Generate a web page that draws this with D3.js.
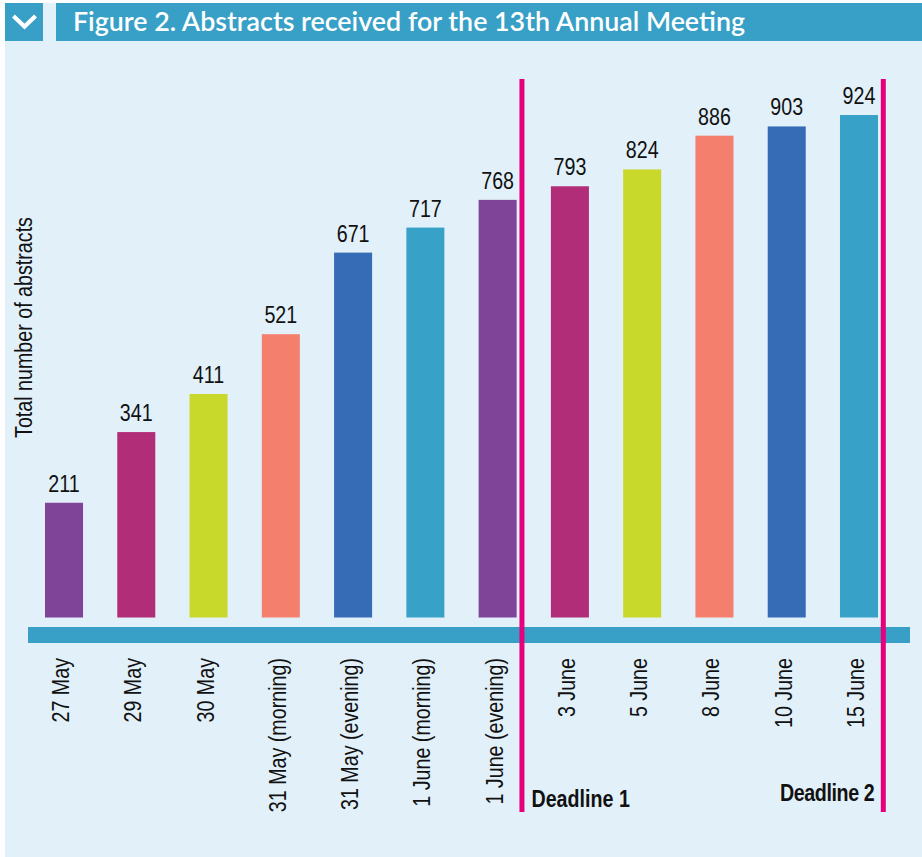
<!DOCTYPE html>
<html>
<head>
<meta charset="utf-8">
<script src="https://cdn.jsdelivr.net/npm/d3@7"></script>
<style>
  html, body { margin: 0; padding: 0; background: #ffffff; }
  svg { display: block; }
  .narrow { font-family: "Liberation Sans", Arial, sans-serif; }
</style>
</head>
<body>
<svg id="chart" width="922" height="857"></svg>
<script>
// ---- Data ----
const categories = ["27 May", "29 May", "30 May", "31 May (morning)", "31 May (evening)",
  "1 June (morning)", "1 June (evening)", "3 June", "5 June", "8 June", "10 June", "15 June"];
const values = [211, 341, 411, 521, 671, 717, 768, 793, 824, 886, 903, 924];
const barColors = ["#7f4397", "#b22d78", "#c9d92b", "#f47f6c", "#366bb5", "#37a1c8",
  "#7f4397", "#b22d78", "#c9d92b", "#f47f6c", "#366bb5", "#37a1c8"];
const deadlines = [
  { after: "1 June (evening)", label: "Deadline 1", side: "right" },
  { after: "15 June", label: "Deadline 2", side: "left" }
];
const titleText = "Figure 2. Abstracts received for the 13th Annual Meeting";
const yAxisTitle = "Total number of abstracts";

// ---- Layout ----
const W = 922, H = 857;
const SX = 0.82; // horizontal condensing to mimic a narrow face
const svg = d3.select("#chart");

const x = d3.scaleBand().domain(categories).range([45, 878]).paddingInner(0.474).paddingOuter(0);
const y = d3.scaleLinear().domain([0, 1000]).range([617.5, 73.7]);

// panel background
svg.append("rect").attr("x", 5).attr("y", 3).attr("width", W - 5).attr("height", H - 3).attr("fill", "#e1f0f9");

// header
svg.append("rect").attr("x", 5).attr("y", 3).attr("width", 38).attr("height", 38).attr("fill", "#38a0c6");
svg.append("path").attr("d", "M15,17.5 L24.5,26.5 L34,17.5").attr("fill", "none")
  .attr("stroke", "#ffffff").attr("stroke-width", 4.2).attr("stroke-linecap", "square").attr("stroke-linejoin", "miter");
svg.append("rect").attr("x", 56).attr("y", 3).attr("width", W - 56).attr("height", 38).attr("fill", "#38a0c6");
svg.append("text").attr("x", 73).attr("y", 31)
  .attr("fill", "#ffffff").attr("font-family", "Lato, 'Open Sans', sans-serif").attr("font-weight", 600)
  .attr("font-size", 27).attr("textLength", 672).attr("lengthAdjust", "spacingAndGlyphs")
  .text(titleText);

// bars
svg.append("g").selectAll("rect").data(categories).join("rect")
  .attr("x", d => x(d))
  .attr("y", (d, i) => y(values[i]))
  .attr("width", x.bandwidth())
  .attr("height", (d, i) => y(0) - y(values[i]))
  .attr("fill", (d, i) => barColors[i]);

// value labels
svg.append("g").attr("class", "narrow").selectAll("text").data(categories).join("text")
  .attr("transform", (d, i) => `translate(${x(d) + x.bandwidth() / 2},${y(values[i]) - 11}) scale(${SX},1)`)
  .attr("text-anchor", "middle").attr("font-size", 24).attr("fill", "#111")
  .text((d, i) => values[i]);

// axis band
svg.append("rect").attr("x", 28).attr("y", 627).attr("width", 882).attr("height", 16).attr("fill", "#38a0c6");

// x axis labels via d3 axis
const xAxis = d3.axisBottom(x).tickSize(0).tickPadding(0);
const gx = svg.append("g").attr("transform", "translate(0,658)").call(xAxis);
gx.select(".domain").remove();
gx.selectAll("text")
  .attr("class", "narrow")
  .attr("font-size", 24).attr("fill", "#111")
  .attr("dy", null)
  .attr("y", 0).attr("x", 0)
  .attr("text-anchor", "end")
  .attr("transform", `translate(5,0) rotate(-90) scale(${SX},1)`);
gx.attr("font-family", null);

// deadline lines & labels
deadlines.forEach((dl) => {
  const lx = x(dl.after) + x.bandwidth() + 5.3;
  svg.append("rect").attr("x", lx - 2.5).attr("y", 79).attr("width", 5).attr("height", 733).attr("fill", "#e5007e");
  const tx = dl.side === "right" ? lx + 9.5 : lx - 9;
  const ty = dl.side === "right" ? 807 : 801;
  svg.append("text").attr("class", "narrow")
    .attr("transform", `translate(${tx},${ty}) scale(${SX},1)`)
    .attr("text-anchor", dl.side === "right" ? "start" : "end")
    .attr("font-weight", "bold").attr("font-size", 24).attr("fill", "#111")
    .attr("letter-spacing", dl.side === "right" ? 0 : -0.5)
    .text(dl.label);
});

// y axis title
svg.append("text").attr("class", "narrow")
  .attr("transform", `translate(32,327.5) rotate(-90) scale(${SX},1)`)
  .attr("text-anchor", "middle").attr("font-size", 24).attr("fill", "#111")
  .text(yAxisTitle);
</script>
</body>
</html>
